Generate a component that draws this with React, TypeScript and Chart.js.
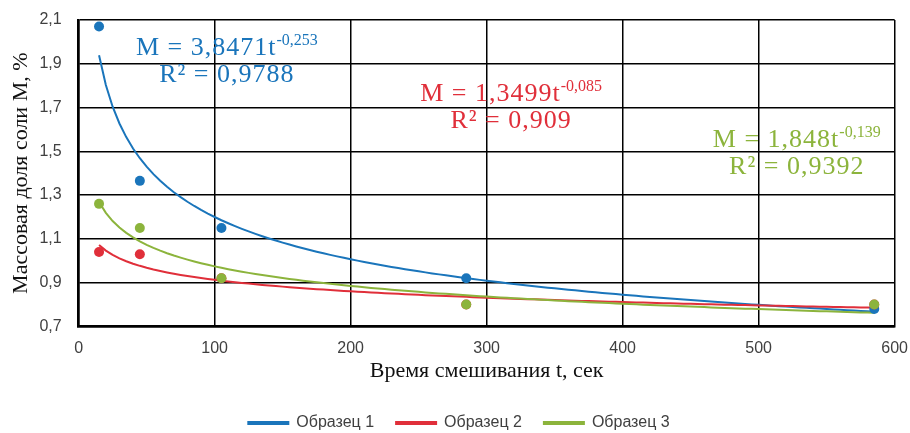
import React, { useEffect, useRef } from "react";
import { Chart, registerables } from "chart.js";

Chart.register(...registerables);

const tPoints = [15, 45, 105, 285, 585];
const sample1 = [2.07, 1.365, 1.15, 0.92, 0.78];
const sample2 = [1.04, 1.03, 0.92, 0.8, 0.8];
const sample3 = [1.26, 1.15, 0.92, 0.8, 0.8];
const seriesNames = ["Образец 1", "Образец 2", "Образец 3"];
const colors = ["#1a75bb", "#e02f3a", "#8cb43c"];
// trendline coefficients shown on the chart: M = a * t^b
const fitA = [3.8471, 1.3499, 1.848];
const fitB = [-0.253, -0.085, -0.139];
const fitALabel = ["3,8471", "1,3499", "1,848"];
const fitBLabel = ["-0,253", "-0,085", "-0,139"];
const r2Label = ["0,9788", "0,909", "0,9392"];
// label anchor (data coords: centre t, baseline M of first line)
const labelT = [109, 318, 528];
const labelM = [1.94, 1.731, 1.52];

const trendT: number[] = [];
for (let t = 15; t <= 585; t += 5) trendT.push(t);

const fmt = (v: number) => v.toFixed(1).replace(".", ",");

const labelPlugin = {
  id: "eqLabels",
  afterDatasetsDraw(chart: any) {
    const { ctx, scales } = chart;
    const mainFont = '26px "Liberation Serif"';
    const supFont = '16px "Liberation Serif"';
    for (let i = 0; i < 3; i++) {
      const cx = scales.x.getPixelForValue(labelT[i]);
      const by = scales.y.getPixelForValue(labelM[i]);
      ctx.save();
      ctx.fillStyle = colors[i];
      ctx.textBaseline = "alphabetic";
      ctx.textAlign = "left";
      const main = "M = " + fitALabel[i] + "t";
      ctx.font = mainFont;
      (ctx as any).letterSpacing = "1px";
      const wm = ctx.measureText(main).width;
      ctx.font = supFont;
      (ctx as any).letterSpacing = "0px";
      const ws = ctx.measureText(fitBLabel[i]).width;
      const x0 = cx - (wm + ws) / 2;
      ctx.font = mainFont;
      (ctx as any).letterSpacing = "1px";
      ctx.fillText(main, x0, by);
      ctx.font = supFont;
      (ctx as any).letterSpacing = "0px";
      ctx.fillText(fitBLabel[i], x0 + wm, by - 10);
      ctx.font = mainFont;
      (ctx as any).letterSpacing = "1px";
      const line2 = "R² = " + r2Label[i];
      const w2 = ctx.measureText(line2).width;
      ctx.fillText(line2, cx - w2 / 2, by + 27);
      ctx.restore();
    }
  },
};

export default function App() {
  const ref = useRef<HTMLCanvasElement>(null);
  useEffect(() => {
    const samples = [sample1, sample2, sample3];
    const lineSets = [0, 1, 2].map((i) => ({
      type: "line" as const,
      label: seriesNames[i],
      data: trendT.map((t) => ({ x: t, y: fitA[i] * Math.pow(t, fitB[i]) })),
      borderColor: colors[i],
      backgroundColor: colors[i],
      borderWidth: 2,
      pointRadius: 0,
      tension: 0,
      order: 5 - i,
    }));
    const pointSets = [0, 1, 2].map((i) => ({
      type: "scatter" as const,
      label: seriesNames[i] + " pts",
      data: tPoints.map((t, k) => ({ x: t, y: samples[i][k] })),
      borderColor: colors[i],
      backgroundColor: colors[i],
      pointRadius: 5,
      pointBorderWidth: 0,
      showLine: false,
      order: 2 - i,
    }));
    const chart = new Chart(ref.current!, {
      type: "scatter",
      data: { datasets: [...lineSets, ...pointSets] as any },
      options: {
        animation: false,
        responsive: true,
        maintainAspectRatio: false,
        layout: { padding: { left: 8, right: 0, top: 20, bottom: 0 } },
        plugins: {
          tooltip: { enabled: false },
          legend: {
            position: "bottom",
            maxHeight: 40,
            labels: {
              filter: (item: any) => item.datasetIndex < 3,
              sort: (a: any, b: any) => a.datasetIndex - b.datasetIndex,
              boxWidth: 40,
              boxHeight: 2,
              color: "#404040",
              font: { family: '"Liberation Sans"', size: 16 },
              padding: 22,
            },
          },
        },
        scales: {
          x: {
            type: "linear",
            min: 0,
            max: 600,
            ticks: {
              stepSize: 100,
              color: "#404040",
              font: { family: '"Liberation Sans"', size: 16 },
              padding: 2,
            },
            grid: { color: "#000", lineWidth: 1.5, drawTicks: true, tickLength: 11, tickColor: "rgba(0,0,0,0)" },
            border: { color: "#000", width: 2.5 },
            title: {
              display: true,
              text: "Время смешивания t, сек",
              color: "#111",
              font: { family: '"Liberation Serif"', size: 22 },
              padding: { top: -3, bottom: 9 },
            },
          },
          y: {
            type: "linear",
            min: 0.7,
            max: 2.1,
            ticks: {
              stepSize: 0.2,
              color: "#404040",
              font: { family: '"Liberation Sans"', size: 16 },
              padding: 2,
              callback: (v: any) => fmt(Number(v)),
            },
            grid: { color: "#000", lineWidth: 1.5, drawTicks: true, tickLength: 15, tickColor: "rgba(0,0,0,0)" },
            border: { color: "#000", width: 2.5 },
            title: {
              display: true,
              text: "Массовая доля соли М, %",
              color: "#111",
              font: { family: '"Liberation Serif"', size: 22 },
              padding: { top: 0, bottom: 3 },
            },
          },
        },
      },
      plugins: [labelPlugin],
    });
    return () => chart.destroy();
  }, []);
  return (
    <div style={{ position: "absolute", left: 0, top: 0, width: 910, height: 433, background: "#fff" }}>
      <canvas ref={ref} />
    </div>
  );
}
